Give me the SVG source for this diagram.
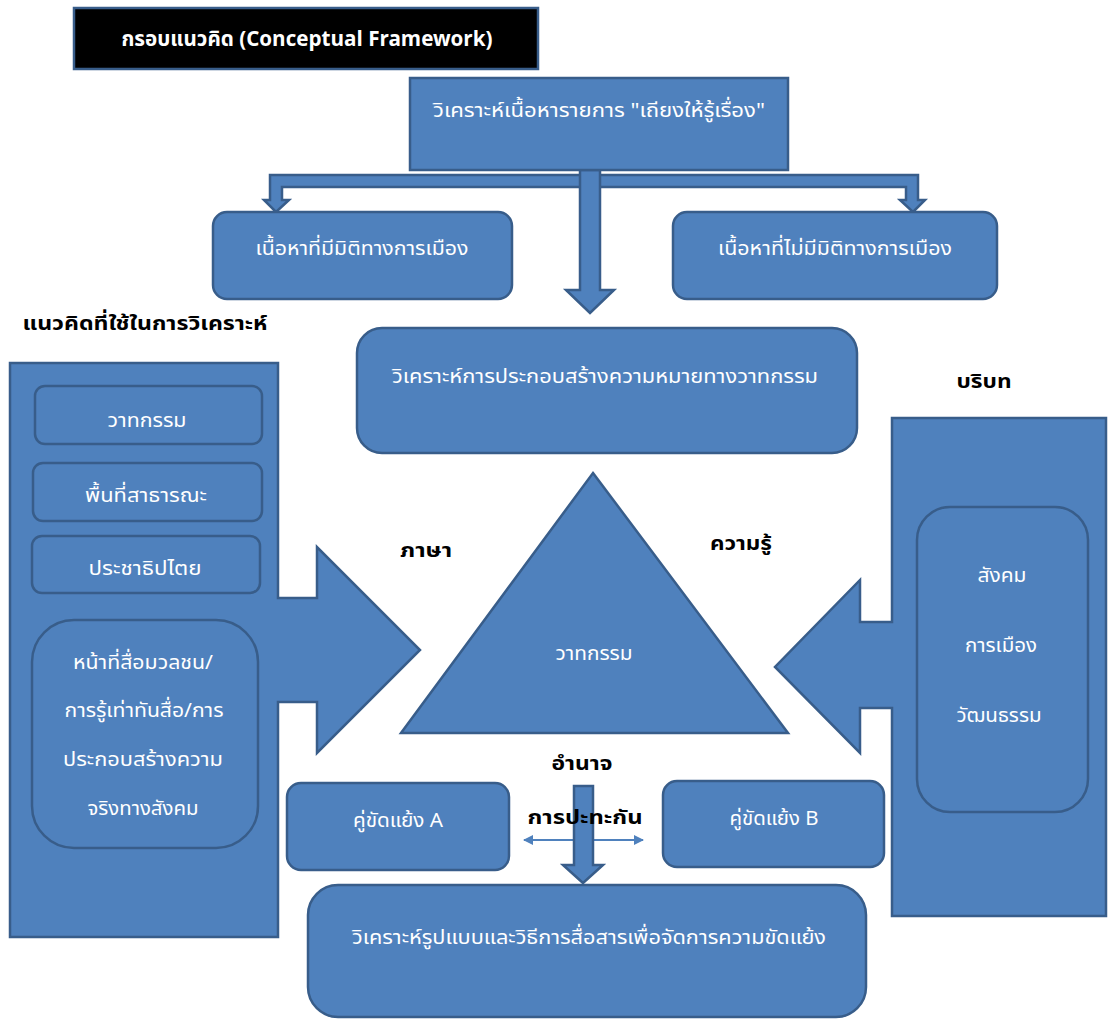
<svg xmlns="http://www.w3.org/2000/svg" width="1108" height="1021" viewBox="0 0 1108 1021">
<style>
.shape{fill:#4F81BD;stroke:#385D8A;stroke-width:2.5;stroke-linejoin:miter}
.wt{fill:#FFFFFF;font-family:"Noto Sans Thai","Noto Sans","Liberation Sans",sans-serif;font-size:20px;text-anchor:middle}
.bk{fill:#000000;font-family:"Noto Sans Thai","Noto Sans","Liberation Sans",sans-serif;font-size:20px;font-weight:bold;text-anchor:middle}
.thin{stroke:#4F81BD;stroke-width:2;fill:none}
</style>
<defs>
<marker id="ah" viewBox="0 0 10 10" refX="9" refY="5" markerWidth="5" markerHeight="5" orient="auto-start-reverse" markerUnits="strokeWidth">
<path d="M0,0 L10,5 L0,10 Z" fill="#4F81BD"/>
</marker>
</defs>
<rect width="1108" height="1021" fill="#FFFFFF"/>

<g id="title">
<rect x="74" y="8" width="464" height="61" fill="#000000" stroke="#385D8A" stroke-width="2.5"/>
<text x="307" y="46" fill="#FFFFFF" font-family="Noto Sans Thai, Noto Sans, Liberation Sans, sans-serif" font-size="21" font-weight="bold" text-anchor="middle" textLength="371" lengthAdjust="spacingAndGlyphs">กรอบแนวคิด (Conceptual Framework)</text>
</g>

<g id="label-concepts"><text class="bk" x="145" y="330" textLength="245" lengthAdjust="spacingAndGlyphs">แนวคิดที่ใช้ในการวิเคราะห์</text></g>
<g id="label-context"><text class="bk" x="984" y="388" textLength="55" lengthAdjust="spacingAndGlyphs">บริบท</text></g>

<g id="connectors">
<path class="shape" d="M270,175 H918 V200 H925 L913,212 L900,200 H906 V187 H282 V200 H289 L276,212 L264,200 H270 Z"/>
<path class="shape" d="M580,170 H600 V290 H614 L590,313 L566,290 H580 Z"/>
<line class="thin" x1="524" y1="840" x2="643" y2="840" marker-start="url(#ah)" marker-end="url(#ah)"/>
<path class="shape" d="M574,786 H593 V865 H603 L583,883 L563,865 H574 Z"/>
</g>

<g id="node-top">
<rect class="shape" x="410" y="78" width="378" height="92"/>
<text class="wt" x="599" y="117" textLength="332" lengthAdjust="spacingAndGlyphs">วิเคราะห์เนื้อหารายการ "เถียงให้รู้เรื่อง"</text>
</g>

<g id="node-political">
<rect class="shape" x="213" y="212" width="299" height="87" rx="14"/>
<text class="wt" x="362" y="255" textLength="213" lengthAdjust="spacingAndGlyphs">เนื้อหาที่มีมิติทางการเมือง</text>
</g>

<g id="node-nonpolitical">
<rect class="shape" x="673" y="212" width="324" height="87" rx="14"/>
<text class="wt" x="835" y="255" textLength="234" lengthAdjust="spacingAndGlyphs">เนื้อหาที่ไม่มีมิติทางการเมือง</text>
</g>

<g id="node-discourse-meaning">
<rect class="shape" x="357" y="328" width="500" height="125" rx="25"/>
<text class="wt" x="605" y="383" textLength="426" lengthAdjust="spacingAndGlyphs">วิเคราะห์การประกอบสร้างความหมายทางวาทกรรม</text>
</g>

<g id="node-concepts-panel">
<path class="shape" d="M10,363 H278 V598 H317 V547 L420,650 L317,753 V702 H278 V937 H10 Z"/>
<rect class="shape" x="35" y="386" width="227" height="58" rx="10"/>
<text class="wt" x="147" y="427" textLength="79" lengthAdjust="spacingAndGlyphs">วาทกรรม</text>
<rect class="shape" x="33" y="463" width="229" height="58" rx="10"/>
<text class="wt" x="146" y="502" textLength="122" lengthAdjust="spacingAndGlyphs">พื้นที่สาธารณะ</text>
<rect class="shape" x="32" y="536" width="228" height="57" rx="10"/>
<text class="wt" x="145" y="575" textLength="113" lengthAdjust="spacingAndGlyphs">ประชาธิปไตย</text>
<rect class="shape" x="32" y="620" width="226" height="228" rx="42"/>
<text class="wt" x="143" y="669" textLength="140" lengthAdjust="spacingAndGlyphs">หน้าที่สื่อมวลชน/</text>
<text class="wt" x="144" y="717" textLength="159" lengthAdjust="spacingAndGlyphs">การรู้เท่าทันสื่อ/การ</text>
<text class="wt" x="143" y="766" textLength="160" lengthAdjust="spacingAndGlyphs">ประกอบสร้างความ</text>
<text class="wt" x="143" y="815" textLength="111" lengthAdjust="spacingAndGlyphs">จริงทางสังคม</text>
</g>

<g id="node-context-panel">
<path class="shape" d="M892,418 H1106 V916 H892 V708 H860 V753 L775,667 L860,580 V622 H892 Z"/>
<rect class="shape" x="917" y="507" width="171" height="305" rx="33"/>
<text class="wt" x="1002" y="582" textLength="49" lengthAdjust="spacingAndGlyphs">สังคม</text>
<text class="wt" x="1001" y="652" textLength="72" lengthAdjust="spacingAndGlyphs">การเมือง</text>
<text class="wt" x="999" y="722" textLength="85" lengthAdjust="spacingAndGlyphs">วัฒนธรรม</text>
</g>

<g id="node-triangle">
<path class="shape" d="M593,473 L788,733 L401,733 Z"/>
<text class="wt" x="594" y="660" textLength="77" lengthAdjust="spacingAndGlyphs">วาทกรรม</text>
</g>

<g id="labels-triangle">
<text class="bk" x="426" y="557" textLength="52" lengthAdjust="spacingAndGlyphs">ภาษา</text>
<text class="bk" x="741" y="550" textLength="62" lengthAdjust="spacingAndGlyphs">ความรู้</text>
<text class="bk" x="582" y="770" textLength="61" lengthAdjust="spacingAndGlyphs">อำนาจ</text>
</g>

<g id="node-party-a">
<rect class="shape" x="287" y="783" width="222" height="87" rx="14"/>
<text class="wt" x="398" y="827" textLength="90" lengthAdjust="spacingAndGlyphs">คู่ขัดแย้ง A</text>
</g>

<g id="node-party-b">
<rect class="shape" x="663" y="781" width="221" height="86" rx="14"/>
<text class="wt" x="774" y="825" textLength="89" lengthAdjust="spacingAndGlyphs">คู่ขัดแย้ง B</text>
</g>

<g id="label-clash"><text class="bk" x="585" y="824" textLength="115" lengthAdjust="spacingAndGlyphs">การปะทะกัน</text></g>

<g id="node-bottom">
<rect class="shape" x="308" y="885" width="558" height="132" rx="30"/>
<text class="wt" x="589" y="944" textLength="474" lengthAdjust="spacingAndGlyphs">วิเคราะห์รูปแบบและวิธีการสื่อสารเพื่อจัดการความขัดแย้ง</text>
</g>
</svg>
